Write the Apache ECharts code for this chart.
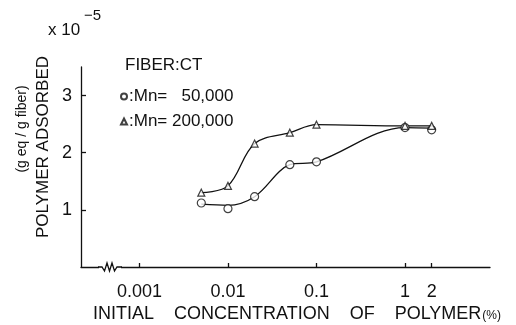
<!DOCTYPE html>
<html>
<head>
<meta charset="utf-8">
<script src="https://cdn.jsdelivr.net/npm/echarts@6/dist/echarts.min.js"></script>
<style>
  html, body { margin: 0; padding: 0; background: #fff; }
  #chart { width: 516px; height: 325px; }
</style>
</head>
<body>
<div id="chart"></div>
<script>
// ---- data ----
const concentrations = [0.005, 0.01, 0.02, 0.05, 0.1, 1, 2];   // initial concentration (%)
const mn50kPoints  = [1.12, 1.02, 1.23, 1.79, 1.84, 2.44, 2.40]; // x1e-5 g eq/g fiber
const mn200kPoints = [1.30, 1.42, 2.16, 2.35, 2.49, 2.47, 2.47];
const mn50kCurve   = [1.10, 1.08, 1.23, 1.79, 1.84, 2.44, 2.43];
const mn200kCurve  = [1.30, 1.42, 2.16, 2.35, 2.49, 2.47, 2.47];
const xTickValues  = [0.001, 0.01, 0.1, 1, 2];
const xTickLabels  = ['0.001', '0.01', '0.1', '1', '2'];
const yTickValues  = [1, 2, 3];
const series50kName  = ':Mn=   50,000';
const series200kName = ':Mn= 200,000';

const FONT = 'Liberation Sans';
const toXY = (vals) => concentrations.map((c, i) => [Math.log10(c), vals[i]]);
const xTickLog = xTickValues.map(v => Math.log10(v));

const chart = echarts.init(document.getElementById('chart'), null, { renderer: 'canvas' });
chart.setOption({
  animation: false,
  backgroundColor: '#fff',
  textStyle: { fontFamily: FONT, color: '#111' },
  grid: { left: 81, right: 26, top: 67, bottom: 58, containLabel: false },
  xAxis: {
    type: 'value',
    min: -3.66, max: 0.96,
    splitLine: { show: false },
    axisLine: { show: true, onZero: false, lineStyle: { color: '#111', width: 1.3 } },
    axisTick: { show: true, inside: true, length: 4, customValues: xTickLog, lineStyle: { color: '#111', width: 1.3 } },
    axisLabel: {
      customValues: xTickLog, margin: 16, fontSize: 18, color: '#111', fontFamily: FONT,
      formatter: (v) => {
        let best = 0;
        xTickLog.forEach((t, i) => { if (Math.abs(t - v) < Math.abs(xTickLog[best] - v)) best = i; });
        return xTickLabels[best];
      }
    }
  },
  yAxis: {
    type: 'value',
    min: 0, max: 3.5,
    splitLine: { show: false },
    axisLine: { show: true, onZero: false, lineStyle: { color: '#111', width: 1.3 } },
    axisTick: { show: true, inside: true, length: 5, customValues: yTickValues, lineStyle: { color: '#111', width: 1.3 } },
    axisLabel: { customValues: yTickValues, margin: 9, fontSize: 18, color: '#111', fontFamily: FONT }
  },
  legend: {
    orient: 'vertical',
    left: 115, top: 83,
    itemWidth: 6, itemHeight: 6, itemGap: 8,
    textStyle: { fontSize: 17, color: '#111', fontFamily: FONT, padding: [0, 0, 0, -3] },
    data: [
      { name: series50kName, icon: 'circle' },
      { name: series200kName, icon: 'triangle' }
    ]
  },
  graphic: [
    { type: 'text', left: 48, top: 22, style: { text: 'x 10', fontSize: 17, fontFamily: FONT, fill: '#111' } },
    { type: 'text', left: 84, top: 8, style: { text: '−5', fontSize: 15, fontFamily: FONT, fill: '#111' } },
    { type: 'text', left: 125, top: 57, style: { text: 'FIBER:CT', fontSize: 17, fontFamily: FONT, fill: '#111' } },
    { type: 'text', x: 43, y: 147, rotation: Math.PI / 2,
      style: { text: 'POLYMER ADSORBED', fontSize: 17, fontFamily: FONT, fill: '#111', align: 'center', verticalAlign: 'middle' } },
    { type: 'text', x: 22, y: 129, rotation: Math.PI / 2,
      style: { text: '(g eq / g fiber)', fontSize: 14, fontFamily: FONT, fill: '#111', align: 'center', verticalAlign: 'middle' } },
    { type: 'text', left: 93, top: 305,
      style: {
        text: '{a|INITIAL    CONCENTRATION    OF    POLYMER}{b|(%)}',
        rich: {
          a: { fontSize: 18, fontFamily: FONT, fill: '#111' },
          b: { fontSize: 12, fontFamily: FONT, fill: '#111', padding: [3, 0, 0, 1] }
        }
      } },
    { type: 'rect', shape: { x: 99, y: 264, width: 22, height: 7 }, style: { fill: '#fff' }, z: 100 },
    { type: 'polyline', z: 101,
      shape: { points: [[98, 267], [102, 267], [104.5, 271], [107, 263], [109.5, 271], [112, 263], [114.5, 271], [117, 267], [122, 267]] },
      style: { stroke: '#111', lineWidth: 1.3, fill: null } }
  ],
  series: [
    { type: 'line', name: 'curve50k', data: toXY(mn50kCurve), smooth: 0.35, showSymbol: false, symbol: 'none',
      lineStyle: { color: '#111', width: 1.3 }, z: 2, silent: true },
    { type: 'line', name: 'curve200k', data: toXY(mn200kCurve), smooth: 0.35, showSymbol: false, symbol: 'none',
      lineStyle: { color: '#111', width: 1.3 }, z: 2, silent: true },
    { type: 'scatter', name: series50kName, data: toXY(mn50kPoints), symbol: 'circle', symbolSize: 8,
      itemStyle: { color: '#fff', borderColor: '#111', borderWidth: 1.2 }, z: 5 },
    { type: 'scatter', name: series200kName, data: toXY(mn200kPoints), symbol: 'triangle', symbolSize: 7,
      itemStyle: { color: '#fff', borderColor: '#111', borderWidth: 1.2 }, z: 5 }
  ]
});
</script>
</body>
</html>
